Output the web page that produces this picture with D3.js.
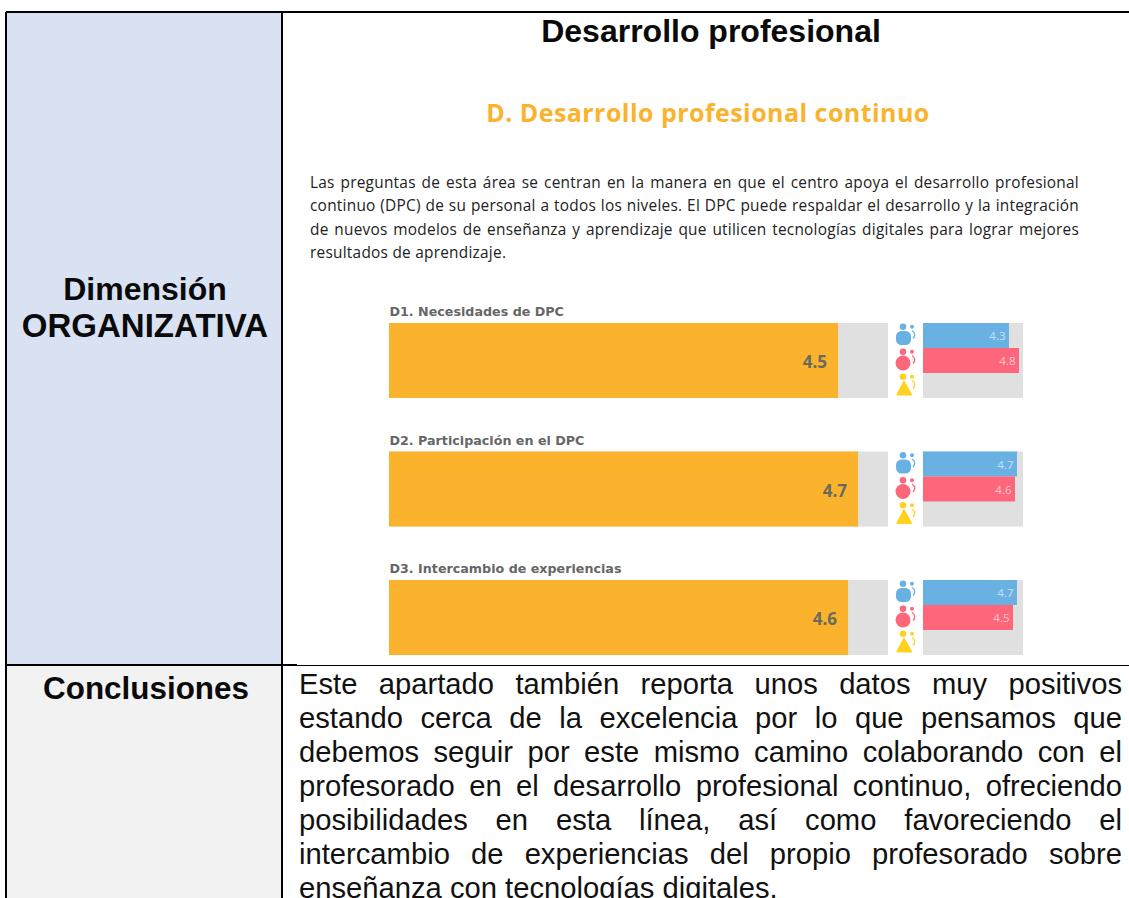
<!DOCTYPE html>
<html><head><meta charset="utf-8">
<script src="https://cdn.jsdelivr.net/npm/d3@7/dist/d3.min.js"></script>
<style>html,body{margin:0;padding:0;background:#fff;overflow:hidden}svg{display:block}</style>
</head><body><svg id="c" width="1129" height="898"></svg>
<script>
const categories = ["D1. Necesidades de DPC","D2. Participación en el DPC","D3. Intercambio de experiencias"];
const overall = [4.5,4.7,4.6];
const leaders = [4.3,4.7,4.7];
const teachers = [4.8,4.6,4.5];
const students = [null,null,null];
const introLines = [
 "Las preguntas de esta área se centran en la manera en que el centro apoya el desarrollo profesional",
 "continuo (DPC) de su personal a todos los niveles. El DPC puede respaldar el desarrollo y la integración",
 "de nuevos modelos de enseñanza y aprendizaje que utilicen tecnologías digitales para lograr mejores",
 "resultados de aprendizaje."];
const conclusionLines = [
 "Este apartado también reporta unos datos muy positivos",
 "estando cerca de la excelencia por lo que pensamos que",
 "debemos seguir por este mismo camino colaborando con el",
 "profesorado en el desarrollo profesional continuo, ofreciendo",
 "posibilidades en esta línea, así como favoreciendo el",
 "intercambio de experiencias del propio profesorado sobre",
 "enseñanza con tecnologías digitales."];

const svg = d3.select("#c");
const sans = "'Liberation Sans',Arial,sans-serif";
const eu = "'Open Sans','Noto Sans',sans-serif";
const black = "#000";

// table cells
svg.append("rect").attr("x",7).attr("y",12).attr("width",275).attr("height",653).attr("fill","#D9E2F3");
svg.append("rect").attr("x",7).attr("y",666).attr("width",275).attr("height",232).attr("fill","#F2F2F2");
const rules = [[6,12,1129,12],[6,12,6,898],[282,12,282,898],[6,665,297,665]];
svg.selectAll("line.r").data(rules).join("line").attr("class","r")
 .attr("x1",d=>d[0]).attr("y1",d=>d[1]).attr("x2",d=>d[2]).attr("y2",d=>d[3])
 .attr("stroke",black).attr("stroke-width",2);
svg.append("line").attr("x1",297).attr("y1",665.5).attr("x2",1129).attr("y2",665.5).attr("stroke",black).attr("stroke-width",1);

function txt(x,y,s,size,weight,fill,anchor,family){
 return svg.append("text").attr("x",x).attr("y",y).text(s).attr("font-size",size)
  .attr("font-weight",weight).attr("fill",fill).attr("text-anchor",anchor||"start").attr("font-family",family||sans);
}
txt(711,42,"Desarrollo profesional",32,"bold","#0a0a0a","middle");
txt(145,300,"Dimensión",32,"bold","#0a0a0a","middle");
txt(145,337,"ORGANIZATIVA",33,"bold","#0a0a0a","middle");
txt(146,699,"Conclusiones",31.4,"bold","#0a0a0a","middle");
txt(708,122,"D. Desarrollo profesional continuo",25,"bold","#FBB32E","middle",eu).attr("letter-spacing",0.45);

function justify(lines,x,width,y0,dy,size,fill,family,spacing){
 lines.forEach((l,i)=>{
  const t = txt(x,y0+i*dy,l,size,"normal",fill,"start",family).attr("letter-spacing",spacing);
  if(i===lines.length-1) return;
  const gaps = l.split(" ").length-1, w = t.node().getComputedTextLength();
  t.attr("word-spacing",(width-w)/gaps);
 });
}
justify(introLines,310,769,187.5,23.6,15.4,"#222",eu,0.25);
justify(conclusionLines,299,823,694,34,29.2,"#111",sans,0);

// main bars
const x = d3.scaleLinear().domain([0,5]).range([389,888]);
const xs = d3.scaleLinear().domain([0,5]).range([923,1023]);
const panelTop = d3.scalePoint().domain(categories).range([323,580]);
const h = 75;
const band = d3.scaleBand().domain(["l","t","s"]).range([0,h]);
const colors = {l:"#69B1E2",t:"#FE667B",s:"#FFD21F"};

const g = svg.selectAll("g.p").data(categories.map((c,i)=>({c,i}))).join("g").attr("class","p")
 .attr("transform",d=>`translate(0,${panelTop(d.c)})`);
g.append("text").attr("x",389.5).attr("y",-7).text(d=>d.c).attr("font-family","'DejaVu Sans',sans-serif").attr("font-weight","bold")
 .attr("font-size",12.7).attr("fill","#666");
g.append("rect").attr("x",x(0)).attr("width",x(5)-x(0)).attr("height",h).attr("fill","#E0E0E0");
g.append("rect").attr("x",x(0)).attr("width",d=>x(overall[d.i])-x(0)).attr("height",h).attr("fill","#FBB32E");
g.append("text").attr("x",d=>x(overall[d.i])-11).attr("y",45).text(d=>overall[d.i].toFixed(1))
 .attr("text-anchor","end").attr("font-family",eu).attr("font-weight","bold").attr("font-size",17).attr("fill","#6a6a5e");
g.append("rect").attr("x",xs(0)).attr("width",xs(5)-xs(0)).attr("height",h).attr("fill","#E0E0E0");
[["l",leaders],["t",teachers],["s",students]].forEach(([k,arr])=>{
 const f = d=>arr[d.i]!=null;
 const gg = g.filter(f);
 gg.append("rect").attr("x",xs(0)).attr("y",band(k)).attr("width",d=>xs(arr[d.i])-xs(0)).attr("height",band.bandwidth()).attr("fill",colors[k]);
 gg.append("text").attr("x",d=>xs(arr[d.i])-3.5).attr("y",band(k)+17).text(d=>arr[d.i].toFixed(1))
  .attr("text-anchor","end").attr("font-family",eu).attr("font-size",11.5).attr("fill","#fff").attr("fill-opacity",.65);
 // person icon
 const ic = g.append("g").attr("transform",`translate(905,${band(k)+12.5})`).attr("fill",colors[k]);
 ic.append("circle").attr("cx",-2).attr("cy",-8.8).attr("r",3.3);
 ic.append("circle").attr("cx",7).attr("cy",-8.8).attr("r",2);
 if(k==="l") ic.append("rect").attr("x",-9).attr("y",-4.5).attr("width",15).attr("height",14).attr("rx",5.5);
 if(k==="t") ic.append("circle").attr("cx",-2).attr("cy",2.5).attr("r",7.5);
 if(k==="s") ic.append("path").attr("d",d3.line()([[-7.5,9],[-1,-3.5],[6,9]])+"Z").attr("stroke",colors[k]).attr("stroke-width",2).attr("stroke-linejoin","round");
 ic.append("path").attr("d","M7,-5 Q12,-1.5 8,3").attr("fill","none").attr("stroke",colors[k]).attr("stroke-width",1.3);
});
</script></body></html>
